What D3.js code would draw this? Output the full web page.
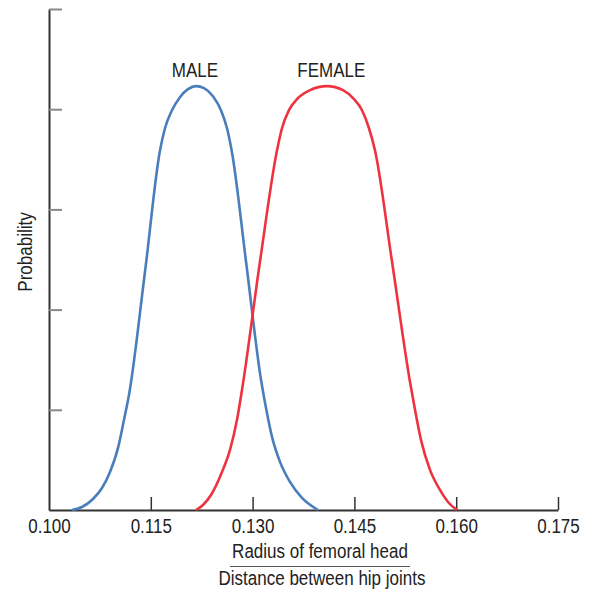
<!DOCTYPE html>
<html><head><meta charset="utf-8">
<script src="https://cdn.jsdelivr.net/npm/d3@7"></script>
<style>
body{margin:0;background:#fff;}
text{font-family:"Liberation Sans",Arial,sans-serif;fill:#222;}
</style></head>
<body>
<svg id="c" width="593" height="591"></svg>
<script>
// Data
const xTicks = [0.100, 0.115, 0.130, 0.145, 0.160, 0.175];
const yTicks = [1, 2, 3, 4, 5];
const maleX = [0.10339,0.10486,0.10648,0.10781,0.10899,0.11017,0.11105,0.11179,0.11415,0.11636,0.11709,0.11812,0.11930,0.12048,0.12166,0.12284,0.12416,0.12534,0.12623,0.12696,0.12903,0.13124,0.13197,0.13286,0.13404,0.13551,0.13728,0.13964];
const maleY = [0,0.03,0.11,0.22,0.38,0.62,0.90,1.15,2.38,3.59,3.81,3.99,4.12,4.20,4.23,4.21,4.13,3.99,3.81,3.57,2.48,1.30,1.02,0.73,0.48,0.28,0.12,0];
const femaleX = [0.12166,0.12269,0.12387,0.12549,0.12667,0.12770,0.12844,0.13109,0.13360,0.13433,0.13536,0.13654,0.13846,0.14096,0.14332,0.14494,0.14612,0.14715,0.14803,0.15054,0.15319,0.15393,0.15481,0.15614,0.15761,0.15879,0.16012];
const femaleY = [0,0.05,0.15,0.38,0.60,0.90,1.20,2.48,3.59,3.81,3.99,4.10,4.19,4.23,4.19,4.10,3.99,3.81,3.59,2.48,1.28,1.00,0.70,0.40,0.20,0.08,0];
const seriesNames = ["MALE","FEMALE"];
const labelPos = [0.1215, 0.1416];

const FS = 20;
const SQUEEZE = 0.85;
const svg = d3.select("#c");
const x = d3.scaleLinear().domain([0.100,0.175]).range([49,558]);
const y = d3.scaleLinear().domain([0,5]).range([510,9]);

function condense(sel){
  sel.each(function(){
    const w = this.getComputedTextLength();
    d3.select(this).attr("textLength", w*SQUEEZE).attr("lengthAdjust","spacingAndGlyphs");
  });
}

// y axis
const ya = svg.append("g").attr("transform","translate(49,0)")
  .call(d3.axisLeft(y).tickValues(yTicks).tickSize(-13).tickSizeOuter(0).tickFormat(""));
ya.select(".domain").attr("stroke","#333").attr("stroke-width",2);
ya.selectAll(".tick line").attr("stroke","#888").attr("stroke-width",2);

// x axis
const xa = svg.append("g").attr("transform","translate(0,510)")
  .call(d3.axisBottom(x).tickValues(xTicks).tickSize(-13).tickSizeOuter(0).tickPadding(9).tickFormat(d3.format(".3f")));
xa.select(".domain").attr("stroke","#333").attr("stroke-width",2);
xa.selectAll(".tick line").attr("stroke","#333").attr("stroke-width",1.5);
xa.selectAll(".tick").filter(d=>d===0.100).select("line").remove();
xa.selectAll(".tick text").attr("font-size",FS).attr("fill","#222").attr("font-family","'Liberation Sans',Arial,sans-serif").call(condense);

// curves
const line = d3.line().x(d=>x(d[0])).y(d=>y(d[1])).curve(d3.curveMonotoneX);
const male = maleX.map((v,i)=>[v,maleY[i]]);
const female = femaleX.map((v,i)=>[v,femaleY[i]]);
svg.append("path").datum(male).attr("d",line).attr("fill","none").attr("stroke","#4a7ebb").attr("stroke-width",2.6);
svg.append("path").datum(female).attr("d",line).attr("fill","none").attr("stroke","#ee3340").attr("stroke-width",2.6);

// series labels
svg.selectAll(".slab").data(seriesNames).enter().append("text")
  .attr("x",(d,i)=>x(labelPos[i])).attr("y",77).attr("text-anchor","middle").attr("font-size",FS).text(d=>d).call(condense);

// y title
svg.append("text").attr("transform","translate(32,252) rotate(-90)").attr("text-anchor","middle").attr("font-size",FS).text("Probability").call(condense);

// x title as fraction
svg.append("text").attr("x",320).attr("y",558).attr("text-anchor","middle").attr("font-size",FS).text("Radius of femoral head").call(condense);
svg.append("line").attr("x1",230).attr("x2",410).attr("y1",566.5).attr("y2",566.5).attr("stroke","#555").attr("stroke-width",1);
svg.append("text").attr("x",322).attr("y",585).attr("text-anchor","middle").attr("font-size",FS).text("Distance between hip joints").call(condense);
</script>
</body></html>
